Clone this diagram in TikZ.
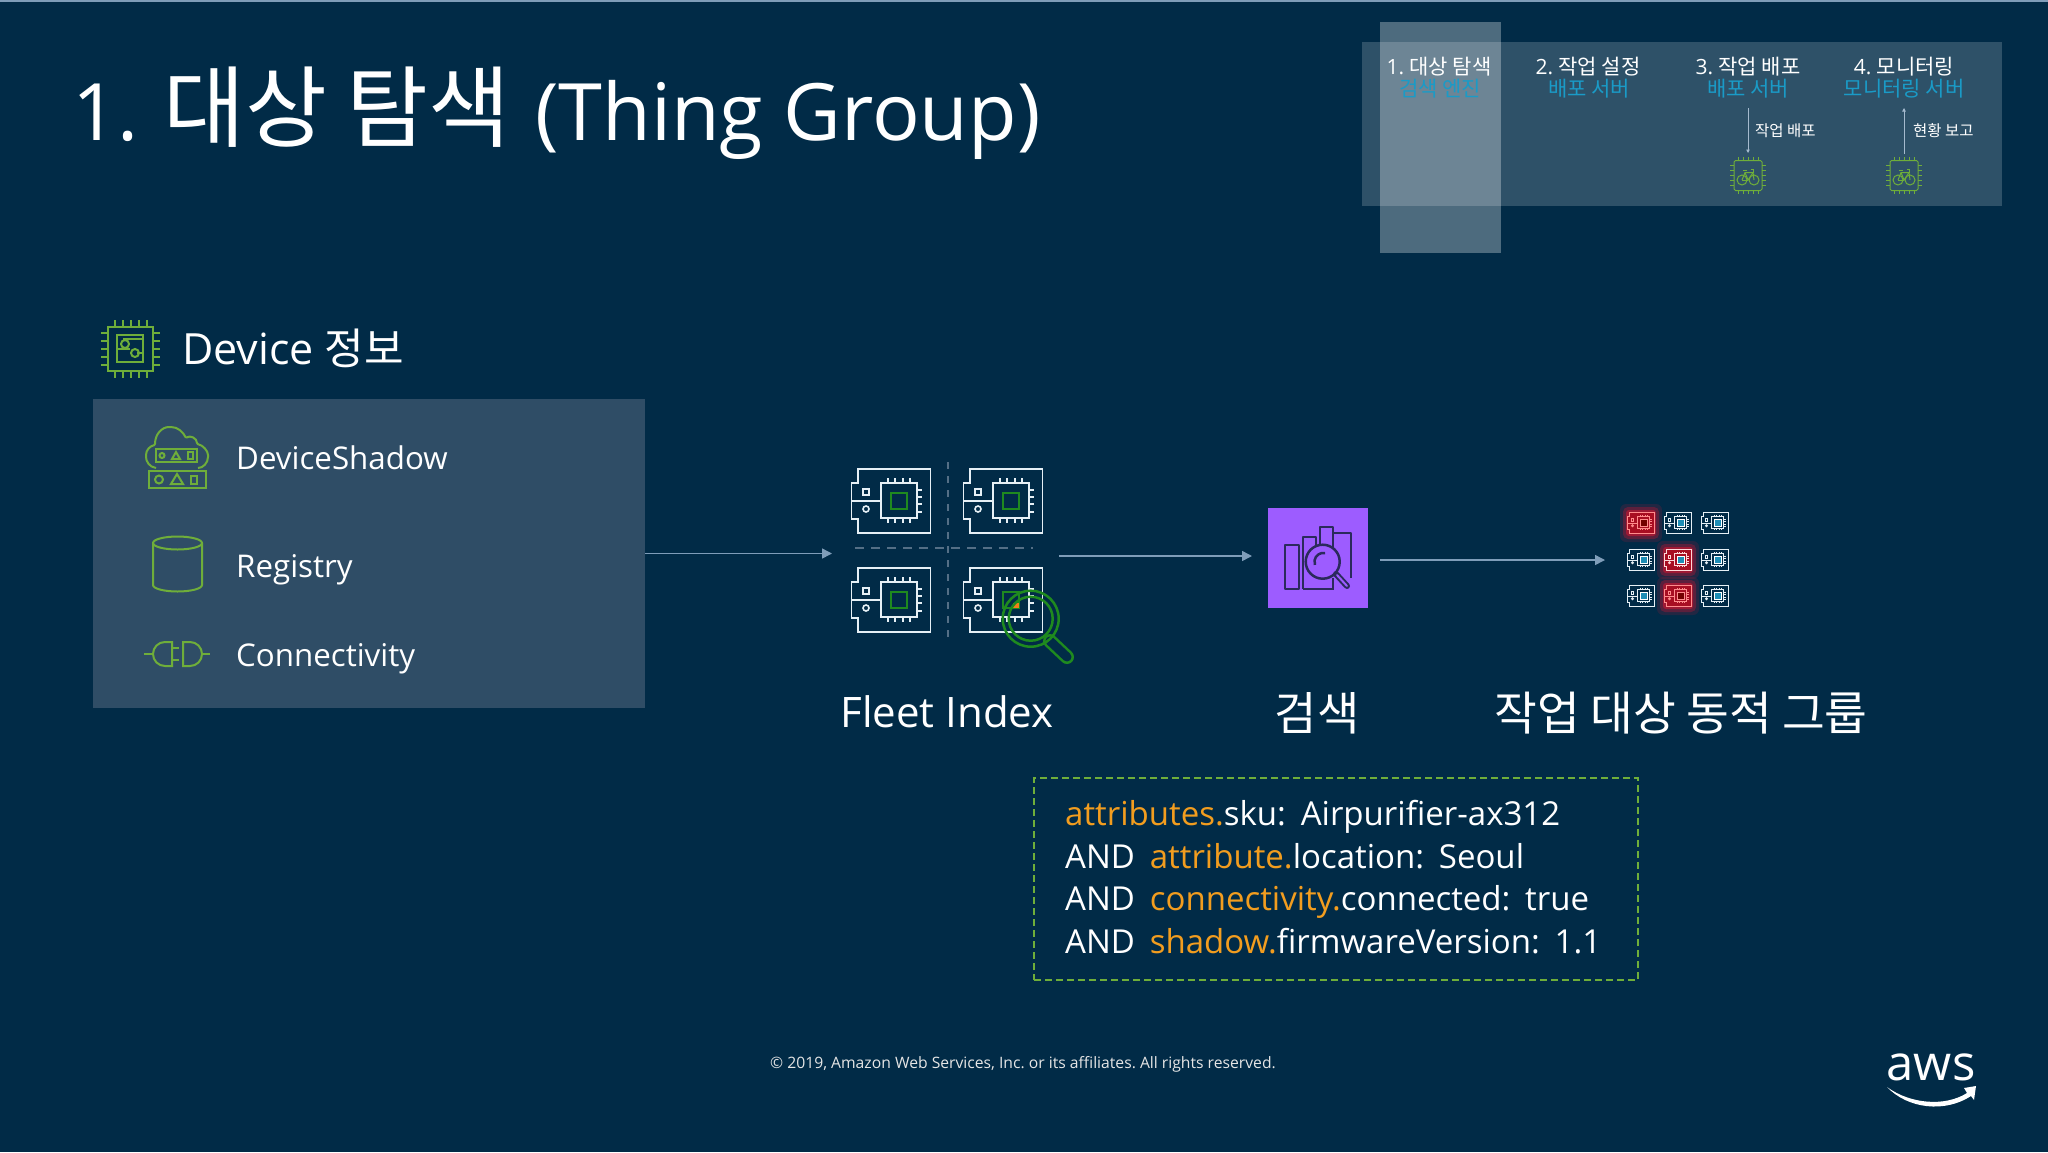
\documentclass[tikz,border=0pt]{standalone}
\usepackage{fontspec}
\usepackage{tikz}
\usetikzlibrary{arrows.meta}
\setmainfont{Open Sans}
\newfontfamily\krfont{Noto Sans CJK KR}
\newcommand{\kr}[1]{{\krfont #1}}
\newcommand{\fsize}[1]{\fontsize{#1}{#1}\selectfont}
\newcommand{\queryfont}{\fontsize{33}{42.6}\selectfont\spaceskip=.45em\relax}

\definecolor{bgnavy}{HTML}{012B47}
\definecolor{panelblue}{HTML}{2F4D66}
\definecolor{iconwhite}{HTML}{E6F0F6}
\definecolor{chipgreen}{HTML}{6FAE3A}
\definecolor{coregreen}{HTML}{1F8A1F}
\definecolor{linkblue}{HTML}{7F9DB9}
\definecolor{dashgrey}{HTML}{546F86}
\definecolor{tealtext}{HTML}{1A9BC7}
\definecolor{coreblue}{HTML}{1D8DB5}
\definecolor{keyorange}{HTML}{F29D1F}
\definecolor{searchpurple}{HTML}{9D5CFF}
\definecolor{searchink}{HTML}{2B2A5C}
\definecolor{alertred}{HTML}{E0132E}

\tikzset{
	label/.style={text=white, inner sep=0pt},
	arrowlink/.style={-{Triangle[length=10pt,width=10pt]}, draw=linkblue, fill=linkblue, line width=1.5pt},
	tinylink/.style={-{Triangle[length=3.5pt,width=3.5pt]}, draw=linkblue!70!white, line width=.7pt},
	greenline/.style={draw=chipgreen, line width=2pt},
	boardline/.style={draw=iconwhite, line width=1.6pt},
	boardcore/.style={draw=coregreen, line width=1.6pt},
	smallboard/.style={scale=.34,
		boardline/.style={draw=iconwhite, line width=.9pt},
		boardcore/.style={scale around={1.3:(8,0)}, draw=white, fill=coreblue, line width=.6pt}},
	redboard/.style={scale=.34,
		boardline/.style={draw=red!45!white, fill=alertred!75!black, line width=.9pt},
		boardcore/.style={scale around={1.3:(8,0)}, draw=red!45!white, fill=red!45!black, line width=.6pt}},
	redblueboard/.style={scale=.34,
		boardline/.style={draw=white!85!red, fill=alertred!75!black, line width=.9pt},
		boardcore/.style={scale around={1.3:(8,0)}, draw=white, fill=coreblue, line width=.6pt}},
	board/.pic={
		\draw[boardline] (-33,-32) -- (39.5,-32) -- (39.5,32) -- (-33,32) -- (-33,18)
			-- (-39.5,18) -- (-39.5,-18) -- (-33,-18) -- cycle;
		\draw[boardline] (-39.5,0) -- (-10,0);
		\draw[boardline] (-10,-18) rectangle (26,17);
		\foreach \pinpos in {-3,4,12,19} {
			\draw[boardline] (\pinpos,-23) -- (\pinpos,-18);
			\draw[boardline] (\pinpos,17) -- (\pinpos,22);
		}
		\foreach \pinpos in {-11,-4,3,11}
			\draw[boardline] (26,\pinpos) -- (31,\pinpos);
		\draw[boardcore] (0,-8) rectangle (16,8);
		\draw[boardline] (-28,-12) rectangle (-22,-6);
		\draw[boardline] (-25,8) circle (3);
	},
	glow/.pic={
		\fill[alertred, opacity=.15, rounded corners=6pt] (-21,-19) rectangle (21,19);
		\fill[alertred, opacity=.3, rounded corners=5pt] (-18,-16) rectangle (18,16);
		\fill[alertred, opacity=.5, rounded corners=3pt] (-15,-13) rectangle (15,13);
	},
	bikechip/.pic={
		\foreach \pinpos in {-10,-5,0,5,10} {
			\draw[greenline, line width=1pt] (\pinpos,-18.5) -- (\pinpos,-15);
			\draw[greenline, line width=1pt] (\pinpos,15) -- (\pinpos,18.5);
			\draw[greenline, line width=1pt] (-18,\pinpos) -- (-14,\pinpos);
			\draw[greenline, line width=1pt] (14,\pinpos) -- (18,\pinpos);
		}
		\draw[greenline, line width=1pt] (-6,4.5) circle (5);
		\draw[greenline, line width=1pt] (6,4.5) circle (5);
		\draw[greenline, line width=1pt] (-6,4.5) -- (-3,-3) -- (5,-3) -- (6,4.5);
		\draw[greenline, line width=1pt] (-3,-3) -- (0,4.5) -- (5,-3);
		\draw[greenline, line width=1pt] (-6,4.5) -- (0,4.5);
		\draw[greenline, line width=1pt] (-5,-5.5) -- (-1,-5.5);
		\draw[greenline, line width=1pt] (3,-6.5) -- (5,-6.5) -- (5,-3);
	},
}

\begin{document}
\frenchspacing
\begin{tikzpicture}[x=1pt, y=-1pt]
	\useasboundingbox (0,0) rectangle (2048,1152);
	\fill[bgnavy] (0,0) rectangle (2048,1152);
	\fill[linkblue] (0,0) rectangle (2048,1.5);

	% title
	\node[label, anchor=base west, font=\fsize{79.2}] (title) at (72, 140) {1.\hspace{4pt} {\fsize{89}\krfont 대상 탐색}\hspace{4pt} (Thing Group)};

	% progress strip
	\fill[white, opacity=.18] (1362,42) rectangle (2002,206);
	\node[label, font=\fsize{21}, anchor=base] (stepa) at (1439, 74) {1. \kr{대상 탐색}};
	\node[label, font=\fsize{21}, anchor=base] (stepb) at (1588, 74) {2. \kr{작업 설정}};
	\node[label, font=\fsize{21}, anchor=base] (stepc) at (1748, 74) {3. \kr{작업 배포}};
	\node[label, font=\fsize{21}, anchor=base] (stepd) at (1904, 74) {4. \kr{모니터링}};
	\node[label, font=\fsize{21}\krfont, text=tealtext, anchor=base] (engineb) at (1589, 96) {배포 서버};
	\node[label, font=\fsize{21}\krfont, text=tealtext, anchor=base] (enginec) at (1748, 96) {배포 서버};
	\node[label, font=\fsize{21}\krfont, text=tealtext, anchor=base] (engined) at (1904, 96) {모니터링 서버};
	\fill[white, opacity=.3] (1380,22) rectangle (1501,253);
	\node[label, font=\fsize{21}\krfont, text=tealtext, anchor=base] (enginea) at (1440, 96) {검색 엔진};

	\node[draw=chipgreen, line width=1pt, minimum width=28pt, minimum height=30pt, rounded corners=1.5pt] (chipc) at (1748, 175.5) {};
	\node[draw=chipgreen, line width=1pt, minimum width=28pt, minimum height=30pt, rounded corners=1.5pt] (chipd) at (1904, 175.5) {};
	\pic at (chipc) {bikechip};
	\pic at (chipd) {bikechip};
	\coordinate (feedc) at (1748, 108);
	\coordinate (feedd) at (1904, 108);
	\draw[tinylink, shorten >=7pt] (feedc) -- (chipc.north);
	\draw[tinylink, shorten <=6pt] (chipd.north) -- (feedd);
	\node[label, font=\fsize{15.5}\krfont, anchor=west] (deploy) at (1755, 131) {작업 배포};
	\node[label, font=\fsize{15.5}\krfont, anchor=west] (report) at (1913, 131) {현황 보고};

	% device panel
	\node[label, anchor=base west, font=\fsize{43}] (device) at (182, 364) {Device \kr{정보}};
	\draw[greenline] (108,327) rectangle (153,371);
	\draw[greenline] (117,335) rectangle (143,362);
	\draw[greenline] (117,349) -- (130,349) (123,339) -- (143,339) (137,353) -- (143,353);
	\draw[greenline] (125,344) circle (4);
	\draw[greenline] (135,353) circle (4);
	\foreach \pinpos in {-16,-8,0,8,16} {
		\draw[greenline] (130.5+\pinpos,320) -- (130.5+\pinpos,327);
		\draw[greenline] (130.5+\pinpos,371) -- (130.5+\pinpos,378);
		\draw[greenline] (101,349+\pinpos) -- (108,349+\pinpos);
		\draw[greenline] (153,349+\pinpos) -- (160,349+\pinpos);
	}

	\node[fill=panelblue, minimum width=552pt, minimum height=309pt, inner sep=0pt] (panel) at (369, 553.5) {};
	\node[label, anchor=base west, font=\fsize{31.3}] (shadow) at (236, 469) {DeviceShadow};
	\node[label, anchor=base west, font=\fsize{31.3}] (registry) at (236, 577) {Registry};
	\node[label, anchor=base west, font=\fsize{31.3}] (connect) at (236, 666) {Connectivity};

	\draw[greenline, rounded corners=1pt] (156,468) .. controls (149,467) and (146,461) .. (146,456)
		.. controls (146,450) and (150,446) .. (155,445) .. controls (155,434) and (162,427) .. (170,427)
		.. controls (178,427) and (183,432) .. (186,438) .. controls (190,435) and (197,438) .. (197,444)
		.. controls (203,445) and (208,451) .. (208,456) .. controls (208,463) and (203,468) .. (198,468);
	\draw[greenline] (156,449) rectangle (197,462);
	\draw[greenline] (162,455.5) circle (2.5);
	\draw[greenline] (176,452) -- (172,459) -- (180,459) -- cycle;
	\draw[greenline] (188,452) rectangle (193,459);
	\draw[greenline] (149,471) rectangle (206,488);
	\draw[greenline] (159,479.5) circle (4);
	\draw[greenline] (177,474) -- (171,484) -- (183,484) -- cycle;
	\draw[greenline] (191,476) rectangle (197,484);

	\draw[greenline] (153,543) -- (153,585) arc[x radius=24.5, y radius=6.5, start angle=180, end angle=0]
		-- (202,543);
	\draw[greenline] (177.5,543) ellipse [x radius=24.5, y radius=6.5];

	\draw[greenline] (144,654) -- (153,654);
	\draw[greenline] (172,642) -- (165,642) arc[radius=12, start angle=-90, end angle=-270] -- (172,666) -- cycle;
	\draw[greenline] (172,648) -- (179,648) (172,660) -- (179,660);
	\draw[greenline] (183,642) -- (190,642) arc[radius=12, start angle=-90, end angle=90] -- (183,666) -- cycle;
	\draw[greenline] (202,654) -- (210,654);

	% fleet index boards
	\draw[dashgrey, line width=1.5pt, dash pattern=on 7pt off 7pt] (948,462) -- (948,640);
	\draw[dashgrey, line width=1.5pt, dash pattern=on 9pt off 7pt] (855,548) -- (1033,548);
	\pic at (891, 501) {board};
	\pic at (1003, 501) {board};
	\pic at (891, 600) {board};
	\pic at (1003, 600) {board};
	\fill[keyorange!80!red] (1013,603) rectangle (1019,608);

	% magnifier
	\draw[coregreen, line width=14pt, line cap=round] (1050,641) -- (1067,657);
	\draw[bgnavy, line width=9pt, line cap=round] (1050,641) -- (1067,657);
	\draw[coregreen, line width=2.5pt] (1030.7,618.7) circle (28);
	\draw[coregreen, line width=2.5pt] (1030.7,618.7) circle (22);

	% search box
	\node[fill=searchpurple, minimum size=100pt, inner sep=0pt] (search) at (1318, 558) {};
	\draw[searchink, line width=2.5pt, line join=round] (1285,545) rectangle (1299,589);
	\draw[searchink, line width=2.5pt, line join=round] (1303,589) -- (1303,537) -- (1316,537) -- (1316,545);
	\draw[searchink, line width=2.5pt, line join=round] (1320,545) -- (1320,527) -- (1333,527) -- (1333,548);
	\draw[searchink, line width=2.5pt, line join=round] (1333,533) -- (1351,533) -- (1351,578);
	\draw[searchink, line width=2.5pt] (1303,589) -- (1333,589) -- (1333,578);
	\fill[searchpurple] (1322.7,561.7) circle (17);
	\draw[searchink, line width=2.5pt] (1322.7,561.7) circle (17);
	\draw[searchink, line width=2.5pt] (1325,553) arc[radius=9, start angle=-80, end angle=-200];
	\draw[searchink, line width=6pt, line cap=round] (1336,574) -- (1347,586);
	\draw[searchpurple, line width=2pt, line cap=round] (1337,575) -- (1347,586);

	% arrows
	\coordinate (fleetin) at (832, 553.5);
	\coordinate (fleetout) at (1059, 556);
	\coordinate (searchin) at (1252, 556);
	\coordinate (searchout) at (1380, 560);
	\coordinate (groupin) at (1605, 560);
	\draw[arrowlink] (panel.east) -- (fleetin);
	\draw[arrowlink] (fleetout) -- (searchin);
	\draw[arrowlink] (searchout) -- (groupin);

	% target group
	\pic at (1641, 523) {glow};
	\pic at (1678, 560) {glow};
	\pic at (1678, 596) {glow};
	\pic[redboard] at (1641, 523) {board};
	\pic[smallboard] at (1678, 523) {board};
	\pic[smallboard] at (1715, 523) {board};
	\pic[smallboard] at (1641, 560) {board};
	\pic[redblueboard] at (1678, 560) {board};
	\pic[smallboard] at (1715, 560) {board};
	\pic[smallboard] at (1641, 596) {board};
	\pic[redboard] at (1678, 596) {board};
	\pic[smallboard] at (1715, 596) {board};

	% captions
	\node[label, anchor=base, font=\fsize{42}] (fleet) at (947, 727) {Fleet Index};
	\node[label, anchor=base, font=\fsize{46}\krfont] (find) at (1317, 730) {검색};
	\node[label, anchor=base, font=\fsize{46.5}\krfont] (group) at (1681, 730) {작업 대상 동적 그룹};

	% query
	\node[draw=chipgreen, dash pattern=on 7pt off 4pt, line width=1.5pt, minimum width=604pt, minimum height=202pt, inner sep=0pt] (query) at (1336, 879) {};
	\node[label, anchor=west, align=left, font=\queryfont] (querytext) at (1065, 877)
		{\textcolor{keyorange}{attributes.}sku: Airpurifier-ax312\\
		AND \textcolor{keyorange}{attribute.}location: Seoul\\
		AND \textcolor{keyorange}{connectivity.}connected: true\\
		AND \textcolor{keyorange}{shadow.}firmwareVersion: 1.1};

	% footer
	\node[label, anchor=base, font=\fsize{15.7}, text=white!90!black] (legal) at (1023, 1068) {© 2019, Amazon Web Services, Inc. or its affiliates. All rights reserved.};
	\node[label, anchor=base, font=\fsize{49}] (aws) at (1931, 1080) {aws};
	\fill[white] (1887,1087) .. controls (1910,1104) and (1945,1107) .. (1967,1093)
		-- (1964,1088) -- (1976,1086) -- (1974,1100) -- (1971,1096)
		.. controls (1945,1113) and (1908,1109) .. (1887,1087) -- cycle;
\end{tikzpicture}
\end{document}
